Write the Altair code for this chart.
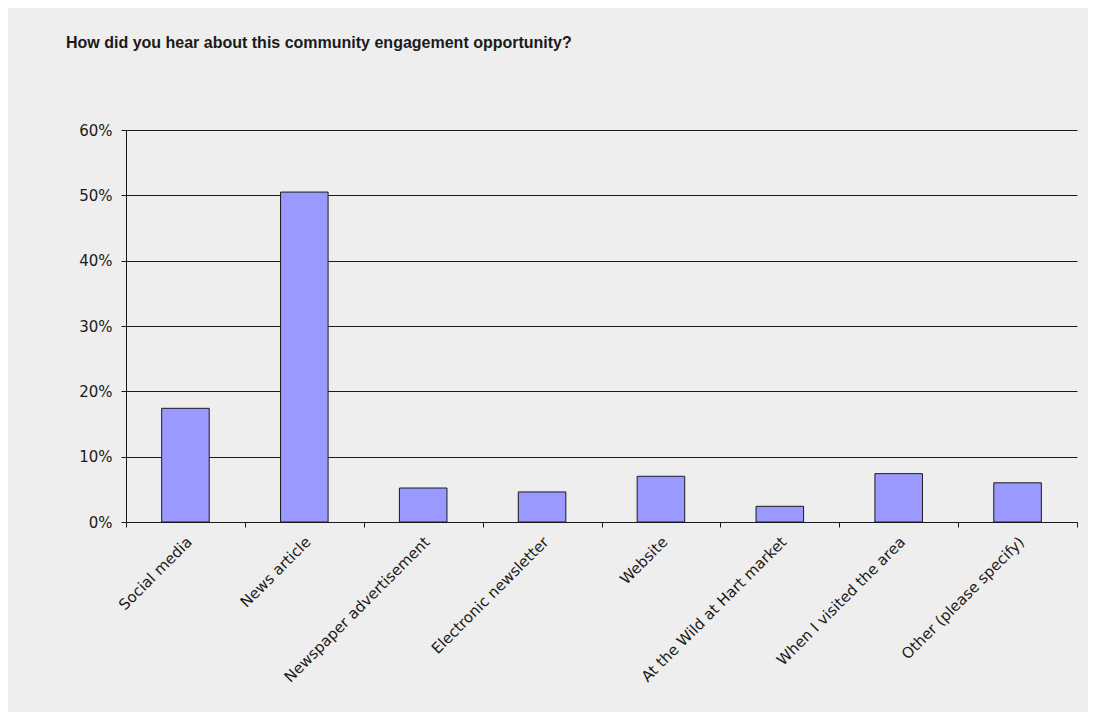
import altair as alt
import pandas as pd

categories = [
    "Social media",
    "News article",
    "Newspaper advertisement",
    "Electronic newsletter",
    "Website",
    "At the Wild at Hart market",
    "When I visited the area",
    "Other (please specify)",
]
values = [0.174, 0.505, 0.052, 0.046, 0.070, 0.024, 0.074, 0.060]
y_ticks = [0.0, 0.1, 0.2, 0.3, 0.4, 0.5, 0.6]

df = pd.DataFrame({"category": categories, "value": values})

FONT = "DejaVu Sans"
BG = "#eeeeee"

y_enc = alt.Y(
    "value:Q",
    scale=alt.Scale(domain=[0, 0.6], nice=False),
    axis=alt.Axis(
        values=y_ticks,
        format=".0%",
        title=None,
        grid=True,
        gridColor="#1a1a1a",
        gridWidth=1,
        domainColor="#1a1a1a",
        tickColor="#1a1a1a",
        tickSize=5,
        labelPadding=9,
        labelFont=FONT,
        labelFontSize=15,
        labelColor="#1a1a1a",
    ),
)

bars = alt.Chart(df).mark_bar(
    color="#9999ff", stroke="#1a1a1a", strokeWidth=1
).encode(
    x=alt.X(
        "category:N",
        sort=categories,
        scale=alt.Scale(paddingInner=0.6, paddingOuter=0.3),
        axis=alt.Axis(
            orient="bottom",
            title=None,
            ticks=False,
            tickSize=0,
            domainColor="#1a1a1a",
            labelAngle=-45,
            labelAlign="right",
            labelBaseline="middle",
            labelPadding=17,
            labelOffset=4,
            labelFont=FONT,
            labelFontSize=15,
            labelColor="#1a1a1a",
            labelLimit=400,
        ),
    ),
    y=y_enc,
)

tick_layer = alt.Chart(df).mark_bar(opacity=0).encode(
    x=alt.X(
        "category:N",
        sort=categories,
        scale=alt.Scale(paddingInner=0, paddingOuter=0),
        axis=alt.Axis(
            orient="bottom",
            title=None,
            labels=False,
            domain=False,
            grid=False,
            ticks=True,
            tickBand="extent",
            tickSize=5,
            tickColor="#1a1a1a",
        ),
    ),
    y=y_enc,
)

chart = (
    alt.layer(bars, tick_layer)
    .resolve_scale(x="independent")
    .resolve_axis(x="independent")
    .properties(
        width=951,
        height=392,
        background=BG,
        padding={"left": 118, "top": 122, "right": 11, "bottom": 190},
        autosize=alt.AutoSizeParams(type="none"),
        title=alt.TitleParams(
            text="How did you hear about this community engagement opportunity?",
            anchor="start",
            frame="group",
            orient="top",
            baseline="alphabetic",
            offset=84,
            dx=-60,
            dy=25,
            font="Liberation Sans",
            fontSize=16,
            fontWeight="bold",
            color="#1a1a1a",
        ),
    )
    .configure_view(stroke=None)
)

chart.save("out.html", embed_options={"renderer": "svg", "actions": False})
